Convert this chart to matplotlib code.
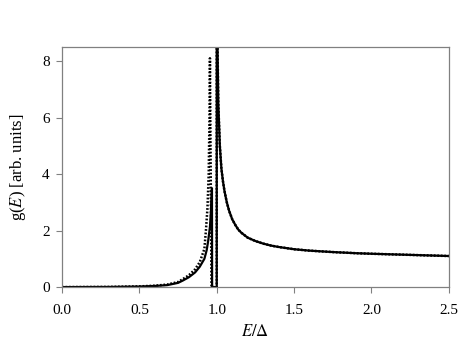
import matplotlib
matplotlib.use("Agg")
import matplotlib.pyplot as plt

# solid curve
e_solid = [0.0, 0.3, 0.5, 0.6, 0.68, 0.75, 0.78, 0.82, 0.86, 0.89, 0.92, 0.935,
           0.945, 0.956, 0.963, 0.969, 0.970, 1.0, 1.0, 1.005, 1.01, 1.02, 1.03,
           1.04, 1.05, 1.065, 1.08, 1.1, 1.12, 1.14, 1.16, 1.2, 1.25, 1.3, 1.35,
           1.4, 1.5, 1.6, 1.75, 1.9, 2.0, 2.25, 2.5]
g_solid = [0.0, 0.005, 0.02, 0.04, 0.07, 0.15, 0.23, 0.35, 0.52, 0.72, 1.0, 1.31,
           1.65, 2.13, 2.7, 3.5, 0.0, 0.0, 60.0, 8.5, 6.5, 5.0, 4.2,
           3.75, 3.4, 3.0, 2.7, 2.4, 2.2, 2.03, 1.92, 1.75, 1.63, 1.54, 1.47,
           1.42, 1.34, 1.29, 1.24, 1.2, 1.18, 1.14, 1.10]

# dotted curve (coincides with the solid one above the gap)
e_dot = [0.0, 0.3, 0.5, 0.6, 0.68, 0.75, 0.78, 0.82, 0.86, 0.89, 0.92, 0.93,
         0.94, 0.948, 0.953, 0.956, 0.966, 1.0, 1.0, 1.005, 1.01, 1.02, 1.03,
         1.04, 1.05, 1.065, 1.08, 1.1, 1.12, 1.14, 1.16, 1.2, 1.25, 1.3, 1.35,
         1.4, 1.5, 1.6, 1.75, 1.9, 2.0, 2.25, 2.5]
g_dot = [0.0, 0.006, 0.025, 0.05, 0.09, 0.18, 0.28, 0.42, 0.63, 0.88, 1.35, 2.0,
         2.8, 4.0, 6.0, 8.1, 0.0, 0.0, 60.0, 8.5, 6.5, 5.0, 4.2,
         3.75, 3.4, 3.0, 2.7, 2.4, 2.2, 2.03, 1.92, 1.75, 1.63, 1.54, 1.47,
         1.42, 1.34, 1.29, 1.24, 1.2, 1.18, 1.14, 1.10]

x_ticks = [0.0, 0.5, 1.0, 1.5, 2.0, 2.5]
y_ticks = [0, 2, 4, 6, 8]

plt.rcParams["font.family"] = ["Liberation Serif", "DejaVu Serif"]
plt.rcParams["mathtext.fontset"] = "stix"

fig = plt.figure(figsize=(4.77, 3.43), dpi=100)
ax = fig.add_axes([0.130, 0.163, 0.811, 0.700])

ax.plot(e_dot, g_dot, color="black", lw=1.8, linestyle=(0, (0.7, 0.7)))
ax.plot(e_solid, g_solid, color="black", lw=1.6)

ax.set_xlim(0, 2.5)
ax.set_ylim(0, 8.5)
ax.set_xticks(x_ticks)
ax.set_xticklabels([f"{v:.1f}" for v in x_ticks])
ax.set_yticks(y_ticks)
ax.tick_params(direction="out", length=4, width=0.8, color="#808080",
               labelsize=11, pad=5)
ax.tick_params(axis="x", pad=8)
for s in ax.spines.values():
    s.set_color("#808080")
    s.set_linewidth(0.9)

ax.set_xlabel(r"$E/\Delta$", fontsize=12, labelpad=5)
ax.set_ylabel(r"g($E$) [arb. units]", fontsize=12, labelpad=10)

fig.savefig("out.png", dpi=100)
